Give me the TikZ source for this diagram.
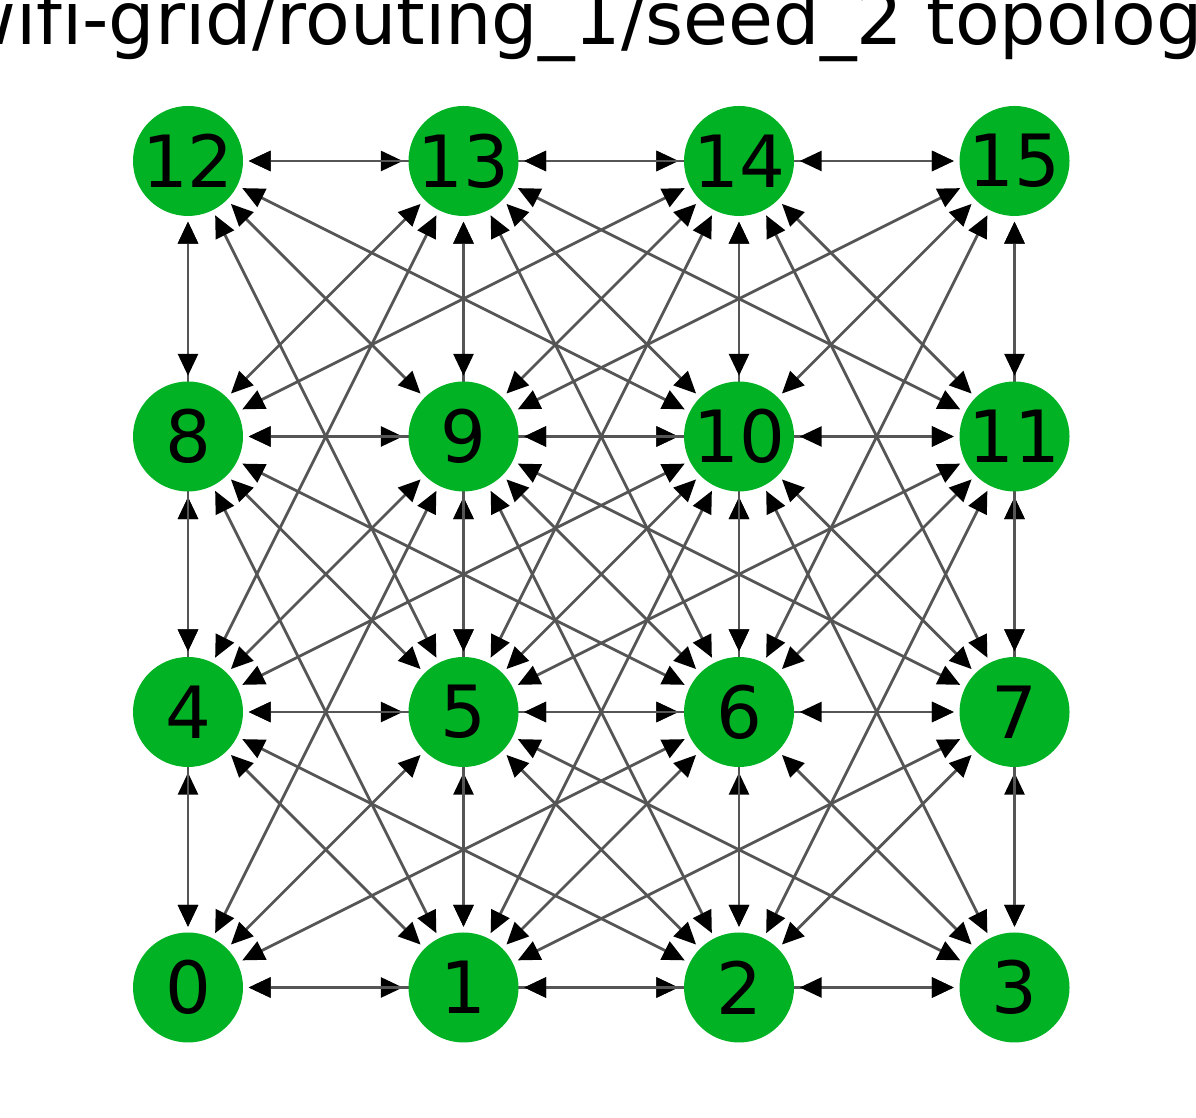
\documentclass[tikz,border=0pt]{standalone}
\usepackage{fontspec}
\setmainfont{DejaVu Sans}[Ligatures=NoCommon]
\usetikzlibrary{arrows.meta, positioning, backgrounds}
\definecolor{nodegreen}{RGB}{0, 178, 36}
\definecolor{linkgray}{RGB}{85, 85, 85}

\begin{document}
\begin{tikzpicture}[
    station/.style={circle, fill=nodegreen, minimum size=1.1cm, inner sep=0pt, font=\fontsize{20.5}{24}\selectfont},
    link/.style={linkgray, line width=0.8pt, {Triangle[length=0.22cm, width=0.2cm, color=black]}-{Triangle[length=0.22cm, width=0.2cm, color=black]}, shorten <=0.05cm, shorten >=0.05cm},
    heading/.style={anchor=base, font=\fontsize{20.8}{24}\selectfont}
]
    \useasboundingbox (0,0) rectangle (11.96,11.18);
    \clip (0,0) rectangle (11.96,11.18);

    % Title (cut by the frame)
    \node[heading] (title) at (6.01,10.73) {wifi-grid/routing\_1/seed\_2 topology};

    % Stations on a 4x4 grid
    \foreach \i in {0,...,15} {
        \pgfmathsetmacro\x{1.88+2.755*mod(\i,4)}
        \pgfmathsetmacro\y{1.305+2.755*int(\i/4)}
        \node[station] (n\i) at (\x,\y) {\i};
    }

    % Links: every pair in radio range (distance up to sqrt 5)
    \begin{scope}[on background layer]
    \foreach \a in {0,...,15} {
        \foreach \b in {0,...,15} {
            \pgfmathtruncatemacro\dx{abs(mod(\a,4)-mod(\b,4))}
            \pgfmathtruncatemacro\dy{abs(int(\a/4)-int(\b/4))}
            \pgfmathtruncatemacro\dd{\dx*\dx+\dy*\dy}
            \ifnum\a<\b \ifnum\dd<6
                \draw[link] (n\a) -- (n\b);
            \fi\fi
        }
    }
    \end{scope}
\end{tikzpicture}
\end{document}
